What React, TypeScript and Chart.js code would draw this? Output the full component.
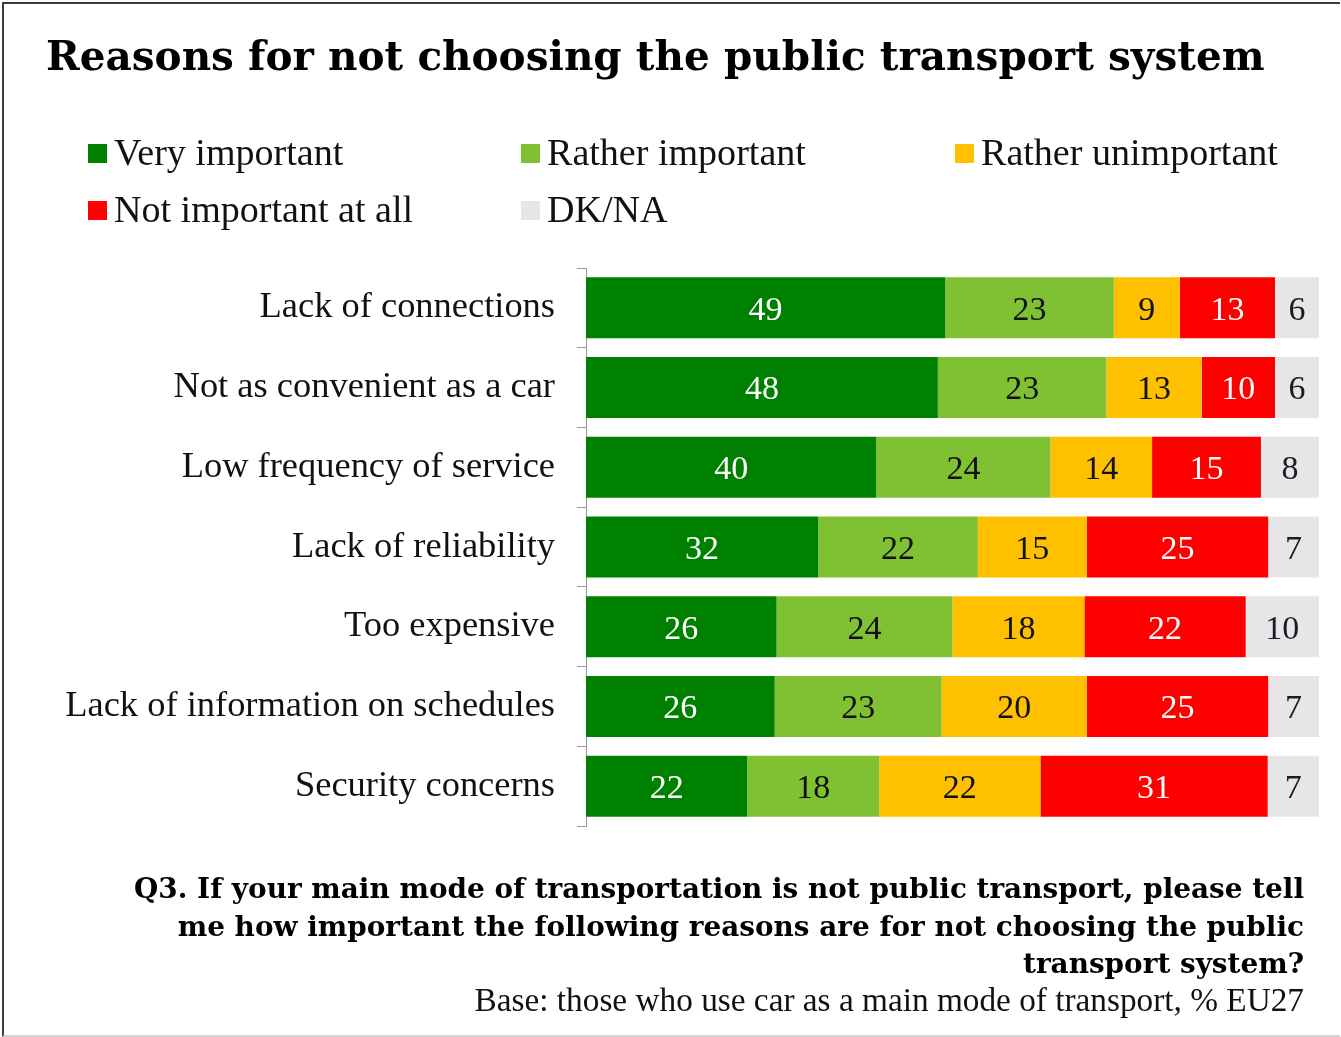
import React, { useEffect, useMemo, useRef } from "react";
import { Chart, registerables } from "chart.js";

Chart.register(...registerables);

// ---------- data ----------
const CATEGORIES = [
  "Lack of connections",
  "Not as convenient as a car",
  "Low frequency of service",
  "Lack of reliability",
  "Too expensive",
  "Lack of information on schedules",
  "Security concerns",
];
const SERIES_NAMES = [
  "Very important",
  "Rather important",
  "Rather unimportant",
  "Not important at all",
  "DK/NA",
];
const VERY_IMPORTANT = [49, 48, 40, 32, 26, 26, 22];
const RATHER_IMPORTANT = [23, 23, 24, 22, 24, 23, 18];
const RATHER_UNIMPORTANT = [9, 13, 14, 15, 18, 20, 22];
const NOT_IMPORTANT_AT_ALL = [13, 10, 15, 25, 22, 25, 31];
const DK_NA = [6, 6, 8, 7, 10, 7, 7];

const SERIES_COLORS = ["#008000", "#80C134", "#FFC000", "#FF0000", "#E6E6E6"];
const LABEL_COLORS = ["#FFFFFF", "#111111", "#111111", "#FFFFFF", "#1A1A28"];

const TITLE = "Reasons for not choosing the public transport system";
const QUESTION_LINES = [
  "Q3. If your main mode of transportation is not public transport, please tell",
  "me how important the following reasons are for not choosing the public",
  "transport system?",
];
const BASE_NOTE = "Base: those who use car as a main mode of transport, % EU27";

// ---------- styling constants ----------
const REG_FAMILY = '"Liberation Serif", "Times New Roman", serif';
const BOLD_FAMILY = '"DejaVu Serif", serif';
const W = 1341;
const H = 1037;

const SERIES_VALUES = [
  VERY_IMPORTANT,
  RATHER_IMPORTANT,
  RATHER_UNIMPORTANT,
  NOT_IMPORTANT_AT_ALL,
  DK_NA,
];

const segmentLabels = {
  id: "segmentLabels",
  afterDatasetsDraw(chart: any) {
    const { ctx } = chart;
    ctx.save();
    ctx.font = `34px ${REG_FAMILY}`;
    ctx.textAlign = "center";
    ctx.textBaseline = "middle";
    chart.data.datasets.forEach((_ds: any, k: number) => {
      const meta = chart.getDatasetMeta(k);
      meta.data.forEach((bar: any, i: number) => {
        const { x, y, base } = bar.getProps(["x", "y", "base"], true);
        ctx.fillStyle = LABEL_COLORS[k];
        ctx.fillText(String(SERIES_VALUES[k][i]), (x + base) / 2, y + 3);
      });
    });
    ctx.restore();
  },
};

export default function App() {
  const canvasRef = useRef<HTMLCanvasElement | null>(null);

  const sizes = useMemo(() => {
    const c = document.createElement("canvas").getContext("2d")!;
    const fit = (text: string, weight: string, family: string, target: number) => {
      c.font = `${weight} 100px ${family}`;
      return (100 * target) / c.measureText(text).width;
    };
    return {
      title: fit(TITLE, "bold", BOLD_FAMILY, 1219),
      question: fit(QUESTION_LINES[0], "bold", BOLD_FAMILY, 1171),
      base: fit(BASE_NOTE, "normal", REG_FAMILY, 830),
      legend: fit(SERIES_NAMES[2], "normal", REG_FAMILY, 297),
      label: fit(CATEGORIES[5], "normal", REG_FAMILY, 490),
    };
  }, []);

  useEffect(() => {
    document.body.style.margin = "0";
    const canvas = canvasRef.current;
    if (!canvas) return;
    const totals = CATEGORIES.map((_, i) =>
      SERIES_VALUES.reduce((s, arr) => s + arr[i], 0)
    );
    const chart = new Chart(canvas, {
      type: "bar",
      data: {
        labels: CATEGORIES,
        datasets: SERIES_VALUES.map((arr, k) => ({
          label: SERIES_NAMES[k],
          data: arr.map((v, i) => (v / totals[i]) * 100),
          backgroundColor: SERIES_COLORS[k],
          borderWidth: 0,
          barPercentage: 0.765,
          categoryPercentage: 1,
        })),
      },
      options: {
        indexAxis: "y",
        responsive: false,
        animation: false,
        events: [],
        layout: { padding: { top: 268, bottom: H - 826, left: 0, right: W - 1319 } },
        plugins: {
          legend: { display: false },
          title: { display: false },
          tooltip: { enabled: false },
        },
        scales: {
          x: { stacked: true, min: 0, max: 100, display: false },
          y: {
            stacked: true,
            grid: {
              display: true,
              drawOnChartArea: false,
              drawTicks: true,
              tickLength: 9,
              color: "#9a9a9a",
              lineWidth: 1,
              offset: true,
            },
            border: { display: true, color: "#9a9a9a", width: 1 },
            ticks: {
              color: "#111111",
              font: { family: REG_FAMILY, size: sizes.label },
              padding: 22,
              autoSkip: false,
            },
            afterFit: (scale: any) => {
              scale.width = 586;
            },
          },
        },
      },
      plugins: [segmentLabels],
    } as any);
    return () => chart.destroy();
  }, [sizes]);

  const baselineTop = (baseline: number, size: number, ratio: number) =>
    baseline - size * ratio;
  const LIB_R = 0.8375;
  const DJV_R = 0.846;

  const legendCols = [88, 521, 955];
  const legendRows = [165, 222];
  const legendSize = sizes.legend;

  return (
    <div
      style={{
        position: "relative",
        width: W,
        height: H,
        overflow: "hidden",
        background: "#fff",
      }}
    >
      <div
        style={{
          position: "absolute",
          left: 2,
          top: 2,
          width: 1336,
          height: 1031,
          borderTop: "2px solid #3c3c3c",
          borderLeft: "2px solid #3c3c3c",
          borderBottom: "2px solid #d4d4d4",
        }}
      />
      <canvas
        ref={canvasRef}
        width={W}
        height={H}
        style={{ position: "absolute", left: 0, top: 0, display: "block" }}
      />
      <div
        style={{
          position: "absolute",
          left: 46,
          top: baselineTop(70, sizes.title, DJV_R),
          fontFamily: BOLD_FAMILY,
          fontWeight: "bold",
          fontSize: sizes.title,
          lineHeight: `${sizes.title}px`,
          whiteSpace: "nowrap",
          color: "#000",
        }}
      >
        {TITLE}
      </div>
      {SERIES_NAMES.map((name, k) => {
        const col = k % 3;
        const row = Math.floor(k / 3);
        const left = legendCols[col];
        const base = legendRows[row];
        return (
          <React.Fragment key={name}>
            <div
              style={{
                position: "absolute",
                left,
                top: base - 21,
                width: 19,
                height: 19,
                background: SERIES_COLORS[k],
              }}
            />
            <div
              style={{
                position: "absolute",
                left: left + 26,
                top: baselineTop(base, legendSize, LIB_R),
                fontFamily: REG_FAMILY,
                fontSize: legendSize,
                lineHeight: `${legendSize}px`,
                whiteSpace: "nowrap",
                color: "#111",
              }}
            >
              {name}
            </div>
          </React.Fragment>
        );
      })}
      {QUESTION_LINES.map((line, i) => (
        <div
          key={i}
          style={{
            position: "absolute",
            right: W - 1304,
            top: baselineTop(899 + i * 37.5, sizes.question, DJV_R),
            fontFamily: BOLD_FAMILY,
            fontWeight: "bold",
            fontSize: sizes.question,
            lineHeight: `${sizes.question}px`,
            whiteSpace: "nowrap",
            textAlign: "right",
            color: "#000",
          }}
        >
          {line}
        </div>
      ))}
      <div
        style={{
          position: "absolute",
          right: W - 1304,
          top: baselineTop(1011, sizes.base, LIB_R),
          fontFamily: REG_FAMILY,
          fontSize: sizes.base,
          lineHeight: `${sizes.base}px`,
          whiteSpace: "nowrap",
          textAlign: "right",
          color: "#111",
        }}
      >
        {BASE_NOTE}
      </div>
    </div>
  );
}
